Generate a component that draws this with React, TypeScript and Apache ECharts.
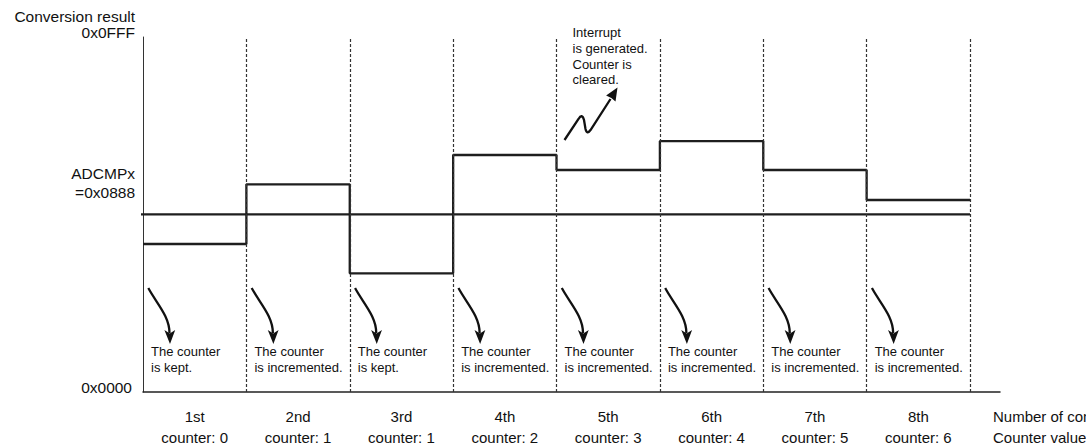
import React, { useEffect, useRef } from "react";
import * as echarts from "echarts";

// ---------- data ----------
const ORDINALS = ["1st", "2nd", "3rd", "4th", "5th", "6th", "7th", "8th"];
const COUNTER_VALUES = [0, 1, 1, 2, 3, 4, 5, 6];
const RESULTS = ["kept", "incremented", "kept", "incremented", "incremented", "incremented", "incremented", "incremented"];
// conversion results (schematic ADC units, 0..0x0FFF)
const LEVELS = [1707, 2396, 1369, 2734, 2561, 2895, 2561, 2215];
const THRESHOLD = 2050; // drawn position of ADCMPx (=0x0888)
const Y_MAX = 4095;
const X_MAX = 8.29;
const THRESHOLD_START = -0.7255; // threshold line extends left of the y axis
const Y_LABELS = ["0x0FFF", "ADCMPx\n=0x0888", "0x0000"];
const X_AXIS_NAME = "Number of conversions\nCounter value";
const Y_AXIS_NAME = "Conversion result";
const INTERRUPT_NOTE = "Interrupt\nis generated.\nCounter is\ncleared.";
const INTERRUPT_SEGMENT = 4;

const FONT = '"Liberation Sans", Arial, Helvetica, sans-serif';
const INK = "#111111";

echarts.graphic.registerShape(
  "interruptArrow",
  echarts.graphic.extendPath(
    "M0 0 L14 -21 Q17.5 -27 19.5 -20 L21 -11 Q22.5 -5 26 -10 L46 -41",
    {}
  )
);

export default function App() {
  const ref = useRef<HTMLDivElement>(null);

  useEffect(() => {
    if (!ref.current) return;
    const chart = echarts.init(ref.current, undefined, { renderer: "svg" });

    const stepData: number[][] = LEVELS.map((v, i) => [i, v]);
    stepData.push([LEVELS.length, LEVELS[LEVELS.length - 1]]);

    chart.setOption({
      animation: false,
      backgroundColor: "#ffffff",
      grid: { left: 143, right: 86, top: 37, bottom: 56 },
      xAxis: {
        type: "value",
        min: 0,
        max: X_MAX,
        axisLine: { show: true, lineStyle: { color: "#222", width: 1.5 } },
        axisTick: { show: false },
        splitLine: { show: false },
        axisLabel: {
          customValues: ORDINALS.map((_, i) => i + 0.5),
          formatter: (v: number) => {
            const i = Math.floor(v);
            return `${ORDINALS[i]}\ncounter: ${COUNTER_VALUES[i]}`;
          },
          fontSize: 15,
          lineHeight: 21,
          margin: 14,
          color: INK,
          fontFamily: FONT,
        },
      },
      yAxis: {
        type: "value",
        min: 0,
        max: Y_MAX,
        axisLine: { show: true, lineStyle: { color: "#333", width: 1 } },
        axisTick: { show: false },
        axisLabel: { show: false },
        splitLine: { show: false },
      },
      series: [
        {
          type: "line",
          step: "end",
          data: stepData,
          symbol: "none",
          lineStyle: { color: "#1e1e1e", width: 2.3 },
          z: 3,
          markLine: {
            silent: true,
            symbol: ["none", "none"],
            label: { show: false },
            lineStyle: { type: [3, 2], color: "#333", width: 1.2 },
            data: ORDINALS.map((_, i) => ({ xAxis: i + 1 })),
          },
        },
        {
          type: "line",
          data: [
            [THRESHOLD_START, THRESHOLD],
            [LEVELS.length, THRESHOLD],
          ],
          clip: false,
          symbol: "none",
          lineStyle: { color: "#1e1e1e", width: 2.3 },
          z: 2,
        },
      ],
    });

    const px = (x: number, y: number) =>
      chart.convertToPixel({ gridIndex: 0 }, [x, y]) as number[];

    const topY = px(0, Y_MAX)[1];
    const thrY = px(0, THRESHOLD)[1];
    const botY = px(0, 0)[1];
    const axisX = px(0, 0)[0];
    const endX = px(X_MAX, 0)[0];

    const textStyle = (text: string, x: number, y: number, size: number, align: string, vAlign: string, lh?: number) => ({
      type: "text",
      silent: true,
      style: {
        text,
        x,
        y,
        fill: INK,
        fontSize: size,
        fontFamily: FONT,
        align,
        verticalAlign: vAlign,
        lineHeight: lh,
      },
    });

    const elements: any[] = [];
    const labelRight = axisX - 8;
    elements.push(textStyle(Y_AXIS_NAME, labelRight, topY - 21, 15.5, "right", "middle"));
    elements.push(textStyle(Y_LABELS[0], labelRight, topY - 5, 15.5, "right", "middle"));
    elements.push(textStyle(Y_LABELS[1], labelRight, thrY - 12, 15.5, "right", "bottom", 19));
    elements.push(textStyle(Y_LABELS[2], labelRight - 3, botY - 5, 15.5, "right", "middle"));
    elements.push(textStyle(X_AXIS_NAME, endX - 7, botY + 14, 15, "left", "top", 21));

    ORDINALS.forEach((_, i) => {
      const sx = px(i, 0)[0];
      elements.push({
        type: "bezierCurve",
        silent: true,
        shape: {
          x1: sx + 5.3, y1: botY - 104,
          cpx1: sx + 13.3, cpy1: botY - 89,
          cpx2: sx + 26.5, cpy2: botY - 76,
          x2: sx + 26.5, y2: botY - 59,
        },
        style: { stroke: "#111", lineWidth: 2.3, fill: "none" },
      });
      elements.push({
        type: "polygon",
        silent: true,
        shape: {
          points: [
            [sx + 27, botY - 48],
            [sx + 32.2, botY - 62],
            [sx + 26.8, botY - 58.5],
            [sx + 21.4, botY - 62],
          ],
        },
        style: { fill: "#111" },
      });
      elements.push(
        textStyle(`The counter\nis ${RESULTS[i]}.`, sx + 8, botY - 49, 13, "left", "top", 16)
      );
    });

    const isx = px(INTERRUPT_SEGMENT, 0)[0];
    elements.push(textStyle(INTERRUPT_NOTE, isx + 16, topY - 12, 13, "left", "top", 15.6));
    const ax = isx + 8;
    const ay = topY + 103;
    elements.push({
      type: "interruptArrow",
      silent: true,
      x: ax,
      y: ay,
      style: { stroke: "#111", lineWidth: 2.3, fill: "none" },
    });
    elements.push({
      type: "polygon",
      silent: true,
      shape: {
        points: [
          [ax + 53, ay - 52.5],
          [ax + 51, ay - 38.5],
          [ax + 46.8, ay - 42],
          [ax + 41.6, ay - 44.5],
        ],
      },
      style: { fill: "#111" },
    });

    chart.setOption({ graphic: { elements } });

    return () => chart.dispose();
  }, []);

  return (
    <div
      ref={ref}
      style={{ position: "fixed", left: 0, top: 0, width: 1086, height: 448, background: "#fff" }}
    />
  );
}
